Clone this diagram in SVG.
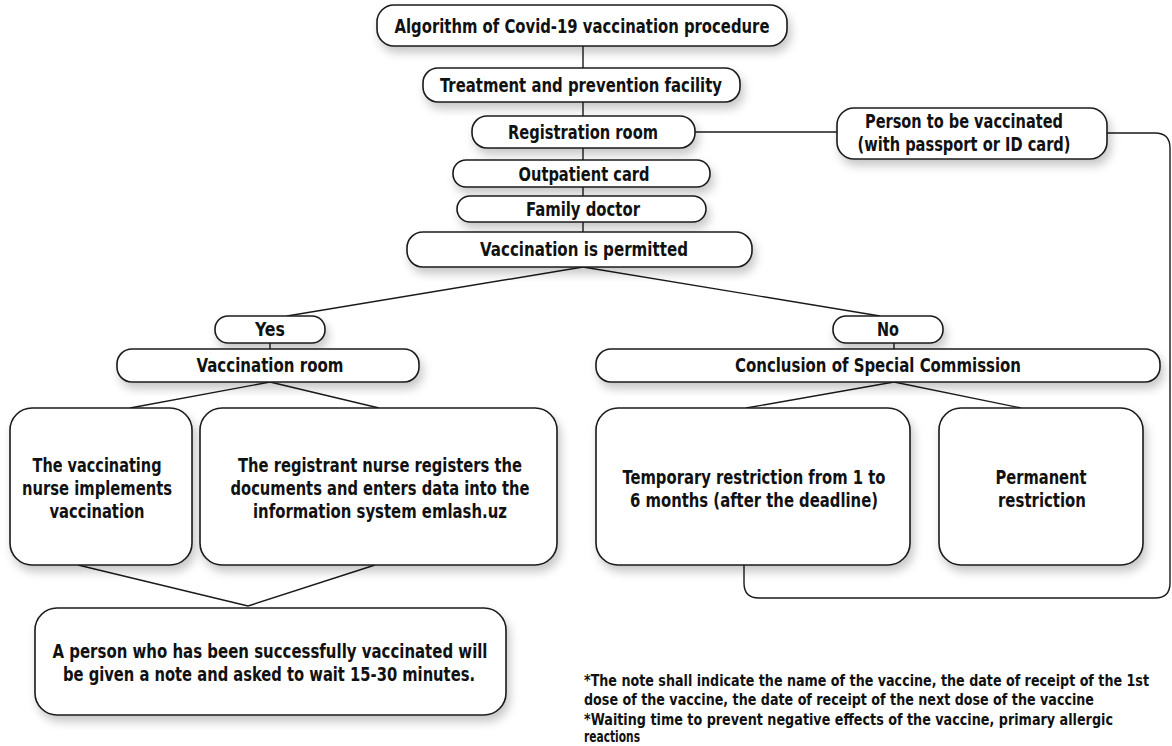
<svg xmlns="http://www.w3.org/2000/svg" width="1172" height="746" viewBox="0 0 1172 746">
<style>
.box{fill:#fff;stroke:#1a1a1a;stroke-width:1.6;filter:url(#sh)}
.t{font-family:"DejaVu Sans Condensed","Liberation Sans",sans-serif;font-weight:bold;font-size:19px;fill:#111;text-anchor:middle}
.b{font-size:20px}
.fn{font-family:"DejaVu Sans Condensed","Liberation Sans",sans-serif;font-weight:bold;font-size:15.5px;fill:#111}
.c{fill:none;stroke:#1a1a1a;stroke-width:1.4}
</style>
<defs>
<filter id="sh" x="-10%" y="-20%" width="120%" height="160%">
<feDropShadow dx="3" dy="6" stdDeviation="5" flood-color="#000" flood-opacity="0.22"/>
</filter>
</defs>
<rect width="1172" height="746" fill="#fff"/>
<g id="connectors">
<line class="c" x1="583" y1="46" x2="583" y2="68"/>
<line class="c" x1="583" y1="102" x2="583" y2="116"/>
<line class="c" x1="583" y1="148" x2="583" y2="160"/>
<line class="c" x1="583" y1="187" x2="583" y2="196"/>
<line class="c" x1="583" y1="222" x2="583" y2="232"/>
<line class="c" x1="695" y1="132" x2="837" y2="132"/>
<path class="c" d="M1107,133 H1155 Q1170,133 1170,148 V583 Q1170,598 1155,598 H759 Q744,598 744,583 V565"/>
<line class="c" x1="583" y1="267" x2="287" y2="316"/>
<line class="c" x1="583" y1="267" x2="880" y2="316"/>
<line class="c" x1="270" y1="343" x2="270" y2="349"/>
<line class="c" x1="894" y1="343" x2="894" y2="349"/>
<line class="c" x1="270" y1="382" x2="130" y2="408"/>
<line class="c" x1="270" y1="382" x2="379" y2="408"/>
<line class="c" x1="894" y1="382" x2="746" y2="408"/>
<line class="c" x1="894" y1="382" x2="1021" y2="408"/>
<line class="c" x1="78" y1="565" x2="248" y2="606"/>
<line class="c" x1="375" y1="565" x2="248" y2="606"/>
</g>
<g id="n-title"><rect class="box" x="377" y="5" width="410" height="41" rx="17"/><text class="t" x="582" y="33" textLength="375" lengthAdjust="spacingAndGlyphs">Algorithm of Covid-19 vaccination procedure</text></g>
<g id="n-facility"><rect class="box" x="423" y="68" width="317" height="34" rx="15"/><text class="t" x="581" y="92" textLength="282" lengthAdjust="spacingAndGlyphs">Treatment and prevention facility</text></g>
<g id="n-registration"><rect class="box" x="472" y="116" width="223" height="32" rx="15"/><text class="t" x="583" y="139" textLength="150" lengthAdjust="spacingAndGlyphs">Registration room</text></g>
<g id="n-person"><rect class="box" x="837" y="108" width="270" height="51" rx="17"/><text class="t" x="964" y="128" textLength="198" lengthAdjust="spacingAndGlyphs">Person to be vaccinated</text><text class="t" x="964" y="151" textLength="213" lengthAdjust="spacingAndGlyphs">(with passport or ID card)</text></g>
<g id="n-outpatient"><rect class="box" x="453" y="160" width="257" height="27" rx="13"/><text class="t" x="584" y="181" textLength="131" lengthAdjust="spacingAndGlyphs">Outpatient card</text></g>
<g id="n-family"><rect class="box" x="457" y="196" width="249" height="26" rx="13"/><text class="t" x="583" y="216" textLength="114" lengthAdjust="spacingAndGlyphs">Family doctor</text></g>
<g id="n-permitted"><rect class="box" x="407" y="232" width="345" height="35" rx="16"/><text class="t" x="584" y="256" textLength="208" lengthAdjust="spacingAndGlyphs">Vaccination is permitted</text></g>
<g id="n-yes"><rect class="box" x="215" y="316" width="110" height="27" rx="13"/><text class="t" x="270" y="336" textLength="30" lengthAdjust="spacingAndGlyphs">Yes</text></g>
<g id="n-no"><rect class="box" x="833" y="316" width="110" height="27" rx="13"/><text class="t" x="888" y="336" textLength="22" lengthAdjust="spacingAndGlyphs">No</text></g>
<g id="n-vacroom"><rect class="box" x="117" y="349" width="302" height="33" rx="15"/><text class="t" x="270" y="372" textLength="147" lengthAdjust="spacingAndGlyphs">Vaccination room</text></g>
<g id="n-commission"><rect class="box" x="596" y="349" width="564" height="33" rx="15"/><text class="t" x="878" y="372" textLength="286" lengthAdjust="spacingAndGlyphs">Conclusion of Special Commission</text></g>
<g id="n-vacnurse"><rect class="box" x="10" y="408" width="182" height="157" rx="22"/><text class="t b" x="97" y="472" textLength="129" lengthAdjust="spacingAndGlyphs">The vaccinating</text><text class="t b" x="97" y="495" textLength="150" lengthAdjust="spacingAndGlyphs">nurse implements</text><text class="t b" x="97" y="518" textLength="95" lengthAdjust="spacingAndGlyphs">vaccination</text></g>
<g id="n-regnurse"><rect class="box" x="200" y="408" width="357" height="157" rx="22"/><text class="t b" x="380" y="472" textLength="284" lengthAdjust="spacingAndGlyphs">The registrant nurse registers the</text><text class="t b" x="380" y="495" textLength="299" lengthAdjust="spacingAndGlyphs">documents and enters data into the</text><text class="t b" x="380" y="518" textLength="254" lengthAdjust="spacingAndGlyphs">information system emlash.uz</text></g>
<g id="n-temporary"><rect class="box" x="596" y="408" width="314" height="157" rx="22"/><text class="t b" x="754" y="484" textLength="263" lengthAdjust="spacingAndGlyphs">Temporary restriction from 1 to</text><text class="t b" x="754" y="507" textLength="248" lengthAdjust="spacingAndGlyphs">6 months (after the deadline)</text></g>
<g id="n-permanent"><rect class="box" x="939" y="408" width="204" height="157" rx="22"/><text class="t b" x="1041" y="484" textLength="91" lengthAdjust="spacingAndGlyphs">Permanent</text><text class="t b" x="1042" y="507" textLength="88" lengthAdjust="spacingAndGlyphs">restriction</text></g>
<g id="n-result"><rect class="box" x="35" y="608" width="471" height="107" rx="22"/><text class="t b" x="270" y="658" textLength="435" lengthAdjust="spacingAndGlyphs">A person who has been successfully vaccinated will</text><text class="t b" x="269" y="681" textLength="412" lengthAdjust="spacingAndGlyphs">be given a note and asked to wait 15-30 minutes.</text></g>
<g id="notes">
<text class="fn" x="584" y="686" textLength="565" lengthAdjust="spacingAndGlyphs">*The note shall indicate the name of the vaccine, the date of receipt of the 1st</text>
<text class="fn" x="584" y="705" textLength="510" lengthAdjust="spacingAndGlyphs">dose of the vaccine, the date of receipt of the next dose of the vaccine</text>
<text class="fn" x="584" y="725" textLength="529" lengthAdjust="spacingAndGlyphs">*Waiting time to prevent negative effects of the vaccine, primary allergic</text>
<text class="fn" x="584" y="742" textLength="56" lengthAdjust="spacingAndGlyphs">reactions</text>
</g>
</svg>
